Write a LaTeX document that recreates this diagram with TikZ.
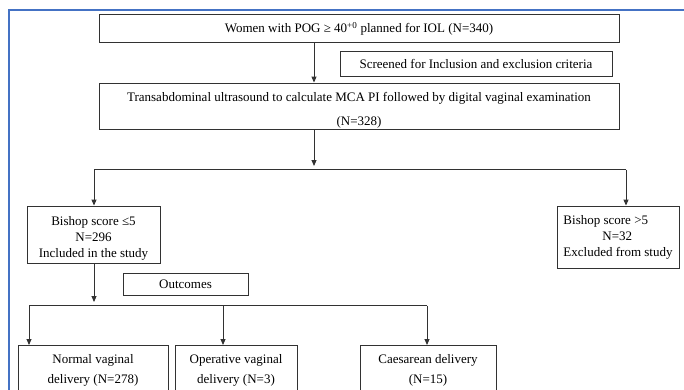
\documentclass[tikz,border=0pt]{standalone}
\usepackage{fontspec}
\setmainfont{Liberation Serif}
\usetikzlibrary{arrows.meta}
\definecolor{framebl}{RGB}{68,114,196}
\definecolor{boxln}{RGB}{50,50,50}
\begin{document}
\begin{tikzpicture}[x=1pt,y=-1pt,
  box/.style={draw=boxln, line width=0.9pt, inner sep=0pt, align=center, font=\fontsize{13}{16}\selectfont},
  arr/.style={draw=boxln, line width=0.9pt, -{Triangle[length=6pt,width=5pt]}},
  ln/.style={draw=boxln, line width=0.9pt},
  frame/.style={draw=framebl, line width=1.5pt}]
\useasboundingbox (0,0) rectangle (684,389);
\clip (0,0) rectangle (684,389);
\fill[white] (0,0) rectangle (684,389);
\draw[frame] (9,395) -- (9,10) -- (690,10);

\node[box, minimum width=520pt, minimum height=28pt] (top) at (359,28)
  {\rule{0pt}{12pt}Women with POG ≥ 40\textsuperscript{+0} planned for IOL (N=340)};
\node[box, minimum width=272pt, minimum height=25pt] (scr) at (476,63.5)
  {Screened for Inclusion and exclusion criteria};
\node[box, minimum width=520pt, minimum height=46pt, font=\fontsize{13}{24}\selectfont] (trans) at (359,106)
  {\rule{0pt}{17pt}Transabdominal ultrasound to calculate MCA PI followed by digital vaginal examination\\(N=328)};

\node[box, minimum width=133pt, minimum height=57pt] (bl) at (93.5,234.5)
  {\rule{0pt}{17pt}Bishop score ≤5\\N=296\\Included in the study};
\node[box, minimum width=122pt, minimum height=62pt, align=left] (br) at (618,237)
  {Bishop score >5\\\hspace*{3em}N=32\\Excluded from study};

\node[box, minimum width=125pt, minimum height=22pt] (out) at (185.5,284) {Outcomes};

\node[box, anchor=north, minimum width=150pt, inner ysep=9pt, font=\fontsize{13}{20}\selectfont] (nv) at (93,345)
  {Normal vaginal\\delivery (N=278)\\\mbox{}};
\node[box, anchor=north, minimum width=122pt, inner ysep=9pt, font=\fontsize{13}{20}\selectfont] (ov) at (236,345)
  {Operative vaginal\\delivery (N=3)\\\mbox{}};
\node[box, anchor=north, minimum width=136pt, inner ysep=9pt, font=\fontsize{13}{20}\selectfont] (cd) at (428,345)
  {Caesarean delivery\\(N=15)\\\mbox{}};

\coordinate (c1) at (314,0);
\coordinate (t1) at (314,166);
\coordinate (hl) at (94,169.5);
\coordinate (hr) at (626,169.5);
\coordinate (t2) at (94,302);
\coordinate (b1) at (29,305.5);
\coordinate (b2) at (223,305.5);
\coordinate (b3) at (427,305.5);

\draw[arr] (top.south -| c1) -- (trans.north -| c1);
\draw[arr] (trans.south -| c1) -- (t1);
\draw[ln] (hl) -- (hr);
\draw[arr] (hl) -- (bl.north -| hl);
\draw[arr] (hr) -- (br.north -| hr);
\draw[arr] (bl.south -| t2) -- (t2);
\draw[ln] (b1) -- (b3);
\draw[arr] (b1) -- (nv.north -| b1);
\draw[arr] (b2) -- (ov.north -| b2);
\draw[arr] (b3) -- (cd.north -| b3);
\end{tikzpicture}
\end{document}
